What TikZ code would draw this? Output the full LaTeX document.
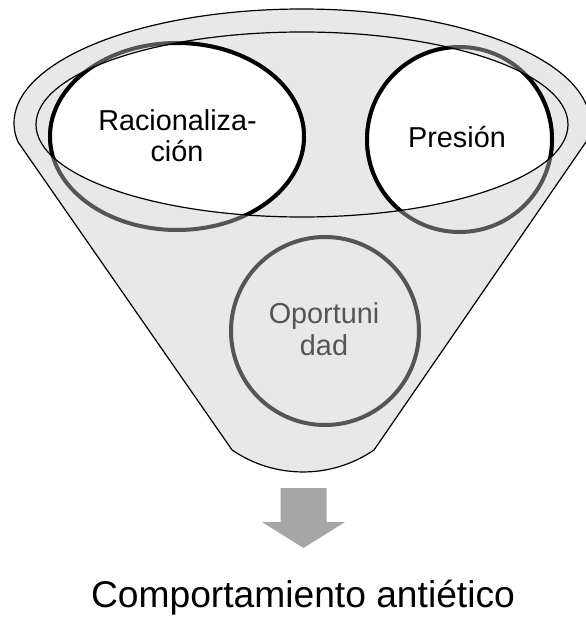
\documentclass[tikz,border=0pt]{standalone}
\usepackage{fontspec}
\setmainfont{Liberation Sans}
\definecolor{funnelfill}{HTML}{E8E8E8}
\definecolor{ringgray}{HTML}{555555}
\definecolor{arrowgray}{HTML}{A6A6A6}
\begin{document}
\begin{tikzpicture}[x=1pt,y=-1pt,
  funnel/.style={fill=funnelfill,draw=black,line width=1.2pt,line join=round},
  rimline/.style={draw=black,line width=1.2pt},
  ringback/.style={draw=ringgray,line width=4pt},
  ringfront/.style={draw=black,fill=white,line width=4pt},
  lbl/.style={font=\fontsize{28.8}{32}\selectfont,anchor=base,inner sep=0pt},
  lblgray/.style={lbl,text=ringgray},
  blockarrow/.style={fill=arrowgray,draw=none},
  result/.style={font=\fontsize{37.2}{44}\selectfont,anchor=base,inner sep=0pt}]
\useasboundingbox (0,0) rectangle (585,617);
% funnel body
\path[funnel] ([shift={(170.4:288 and 114)}]302,123)
  arc[start angle=170.4, end angle=369.6, x radius=288, y radius=114]
  -- (374,450)
  arc[start angle=55.6, end angle=124.4, radius=125.6]
  -- cycle;
% circles, back (outside the funnel mouth)
\draw[ringback] (177,136.5) ellipse[x radius=127, y radius=93.5];
\draw[ringback] (459.5,139.5) circle[radius=92.5];
\draw[ringback] (325,331) circle[radius=94];
% circles, front (inside the funnel mouth)
\begin{scope}
  \clip (302,124.5) ellipse[x radius=266, y radius=92.5];
  \draw[ringfront] (177,136.5) ellipse[x radius=127, y radius=93.5];
  \draw[ringfront] (459.5,139.5) circle[radius=92.5];
\end{scope}
% inner rim
\draw[rimline] (302,124.5) ellipse[x radius=266, y radius=92.5];
% labels
\node[lbl] (rac1) at (177.5,131) {Racionaliza-};
\node[lbl] (rac2) at (177,162) {ción};
\node[lbl] (pres) at (457,148) {Presión};
\node[lblgray] (opo1) at (324,323) {Oportuni};
\node[lblgray] (opo2) at (324,355) {dad};
% block arrow
\fill[blockarrow] (280.5,488) -- (326.5,488) -- (326.5,522) -- (345,522)
  -- (303.5,548) -- (262,522) -- (280.5,522) -- cycle;
% result
\node[result] (res) at (303,607) {Comportamiento antiético};
\end{tikzpicture}
\end{document}
